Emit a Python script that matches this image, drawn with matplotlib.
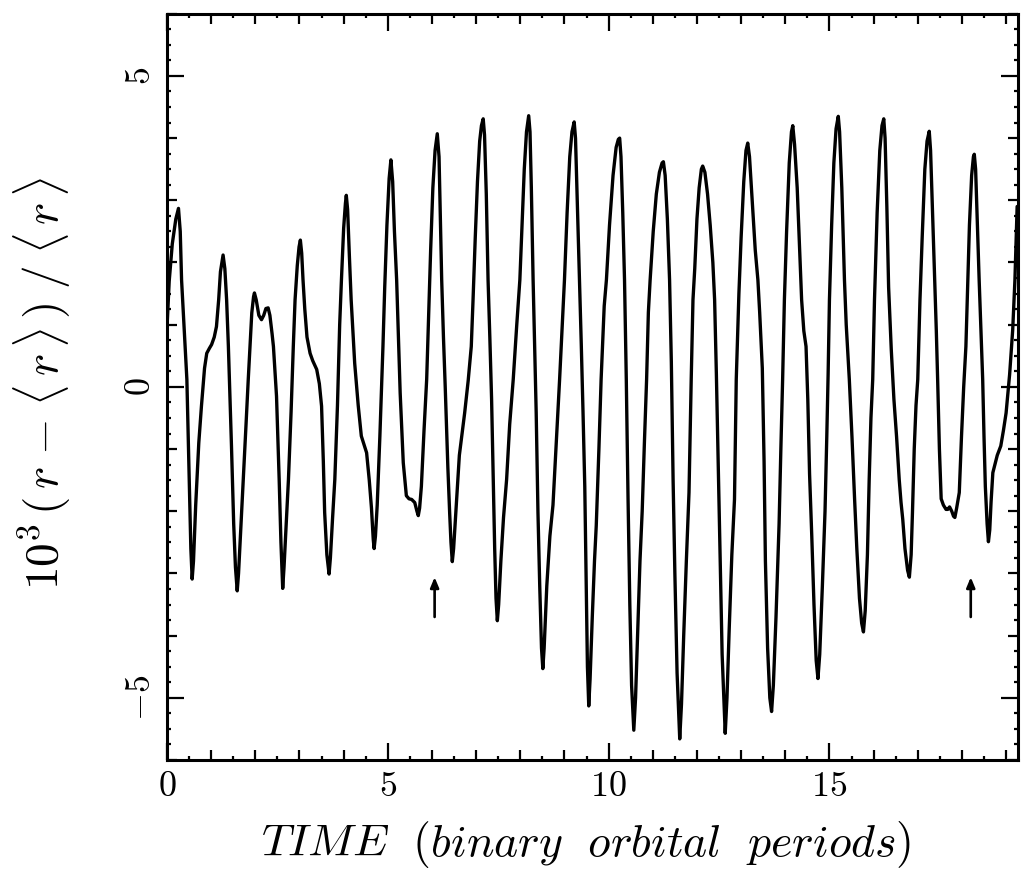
import matplotlib
matplotlib.use("Agg")
import matplotlib.pyplot as plt
from matplotlib.ticker import MultipleLocator

# Fractional radius deviation of the orbit, in units of 1e-3, versus time
time_periods = [
    0.00, 0.05, 0.12, 0.20, 0.26, 0.30, 0.33, 0.37, 0.45, 0.50, 0.54, 0.57, 0.60, 0.65, 0.72, 0.78,
    0.85, 0.90, 0.96, 1.01, 1.07, 1.12, 1.17, 1.21, 1.27, 1.31, 1.35, 1.39, 1.46, 1.51, 1.55, 1.59,
    1.62, 1.67, 1.73, 1.79, 1.84, 1.89, 1.92, 1.96, 1.98, 2.02, 2.08, 2.14, 2.19, 2.24, 2.29, 2.33,
    2.38, 2.41, 2.48, 2.54, 2.58, 2.62, 2.65, 2.70, 2.75, 2.81, 2.86, 2.90, 2.95, 2.99, 3.02, 3.05,
    3.08, 3.12, 3.17, 3.24, 3.30, 3.39, 3.45, 3.50, 3.54, 3.57, 3.62, 3.67, 3.70, 3.75, 3.80, 3.86,
    3.91, 3.95, 4.00, 4.04, 4.06, 4.09, 4.13, 4.17, 4.25, 4.33, 4.40, 4.47, 4.52, 4.58, 4.63, 4.67,
    4.69, 4.72, 4.76, 4.82, 4.89, 4.93, 4.98, 5.03, 5.07, 5.11, 5.15, 5.20, 5.24, 5.28, 5.35, 5.42,
    5.48, 5.54, 5.61, 5.66, 5.69, 5.72, 5.76, 5.82, 5.88, 5.93, 5.97, 6.02, 6.07, 6.12, 6.16, 6.19,
    6.22, 6.26, 6.30, 6.36, 6.40, 6.43, 6.46, 6.49, 6.55, 6.62, 6.74, 6.82, 6.89, 6.93, 6.98, 7.03,
    7.08, 7.12, 7.16, 7.19, 7.23, 7.27, 7.31, 7.35, 7.39, 7.42, 7.45, 7.48, 7.51, 7.56, 7.62, 7.69,
    7.76, 7.84, 7.92, 7.99, 8.04, 8.09, 8.14, 8.19, 8.22, 8.25, 8.29, 8.33, 8.36, 8.40, 8.44, 8.48,
    8.51, 8.54, 8.60, 8.67, 8.74, 8.80, 8.89, 8.95, 9.00, 9.06, 9.12, 9.17, 9.22, 9.25, 9.29, 9.34,
    9.38, 9.42, 9.46, 9.49, 9.52, 9.55, 9.58, 9.63, 9.68, 9.72, 9.78, 9.83, 9.90, 9.95, 10.02, 10.10,
    10.17, 10.22, 10.25, 10.28, 10.32, 10.36, 10.40, 10.44, 10.48, 10.52, 10.57, 10.61, 10.66, 10.71,
    10.76, 10.81, 10.86, 10.90, 10.94, 11.01, 11.08, 11.15, 11.21, 11.24, 11.28, 11.33, 11.38, 11.42,
    11.46, 11.50, 11.55, 11.61, 11.65, 11.70, 11.76, 11.82, 11.87, 11.91, 11.95, 12.00, 12.05, 12.10,
    12.13, 12.18, 12.24, 12.30, 12.36, 12.40, 12.44, 12.48, 12.52, 12.57, 12.64, 12.68, 12.73, 12.79,
    12.85, 12.89, 12.95, 13.00, 13.06, 13.11, 13.15, 13.19, 13.25, 13.32, 13.38, 13.42, 13.48, 13.52,
    13.55, 13.60, 13.65, 13.69, 13.73, 13.79, 13.86, 13.90, 13.94, 13.98, 14.03, 14.09, 14.14, 14.17,
    14.21, 14.27, 14.32, 14.37, 14.42, 14.47, 14.51, 14.55, 14.60, 14.65, 14.70, 14.74, 14.78, 14.84,
    14.90, 14.94, 14.97, 15.00, 15.05, 15.10, 15.15, 15.20, 15.23, 15.28, 15.34, 15.38, 15.45, 15.51,
    15.57, 15.62, 15.68, 15.73, 15.77, 15.81, 15.86, 15.90, 15.94, 15.98, 16.02, 16.08, 16.14, 16.19,
    16.23, 16.26, 16.30, 16.34, 16.40, 16.46, 16.52, 16.58, 16.62, 16.66, 16.71, 16.77, 16.81, 16.85,
    16.88, 16.92, 16.96, 17.00, 17.05, 17.10, 17.16, 17.21, 17.26, 17.29, 17.33, 17.38, 17.42, 17.45,
    17.49, 17.53, 17.58, 17.64, 17.68, 17.72, 17.77, 17.81, 17.84, 17.88, 17.94, 17.99, 18.04, 18.09,
    18.13, 18.17, 18.22, 18.26, 18.28, 18.31, 18.35, 18.39, 18.43, 18.47, 18.50, 18.53, 18.57, 18.60,
    18.63, 18.66, 18.70, 18.80, 18.88, 18.94, 19.00, 19.08, 19.15, 19.20, 19.25,
]
radius_dev = [
    0.95, 1.70, 2.30, 2.70, 2.87, 2.50, 1.72, 1.19, 0.12, -1.40, -2.60, -3.09, -2.80, -1.90, -0.90, -0.31,
    0.30, 0.54, 0.62, 0.68, 0.80, 0.97, 1.40, 1.85, 2.12, 1.90, 1.40, 0.65, -0.95, -2.20, -2.90, -3.28,
    -3.00, -2.30, -1.49, -0.60, 0.12, 0.80, 1.19, 1.45, 1.51, 1.40, 1.15, 1.08, 1.15, 1.26, 1.27, 1.15,
    0.85, 0.65, -0.15, -1.49, -2.50, -3.24, -2.90, -2.20, -1.49, -0.40, 0.65, 1.40, 1.95, 2.25, 2.36, 2.15,
    1.72, 1.25, 0.80, 0.54, 0.42, 0.28, 0.05, -0.31, -1.20, -2.02, -2.70, -3.01, -2.75, -2.10, -1.49, -0.30,
    1.00, 1.72, 2.55, 2.95, 3.08, 2.85, 2.10, 1.40, 0.38, -0.30, -0.79, -0.95, -1.06, -1.50, -1.95, -2.45,
    -2.60, -2.40, -1.90, -0.80, 0.65, 1.60, 2.60, 3.35, 3.65, 3.30, 2.50, 1.72, 0.80, -0.10, -1.22, -1.75,
    -1.80, -1.81, -1.86, -2.00, -2.07, -1.95, -1.60, -0.70, 0.12, 1.30, 2.20, 3.20, 3.80, 4.07, 3.70, 2.70,
    1.72, 0.80, 0.00, -1.30, -2.02, -2.50, -2.81, -2.60, -1.90, -1.10, -0.42, 0.10, 0.65, 1.40, 2.40, 3.30,
    3.95, 4.20, 4.31, 4.05, 3.10, 1.72, 0.80, -0.20, -1.60, -2.60, -3.40, -3.76, -3.50, -2.80, -2.10, -1.49,
    -0.60, 0.12, 1.00, 1.72, 2.60, 3.50, 4.10, 4.36, 4.10, 3.20, 1.72, 0.50, -0.42, -2.02, -3.20, -4.20,
    -4.53, -4.20, -3.20, -2.40, -1.90, -1.10, 0.12, 1.00, 1.72, 2.80, 3.70, 4.10, 4.26, 4.00, 3.00, 1.72,
    0.70, -0.40, -1.60, -3.00, -4.50, -5.13, -4.70, -3.70, -2.80, -2.23, -1.00, 0.12, 1.30, 1.72, 2.60, 3.40,
    3.85, 3.98, 4.00, 3.70, 2.80, 1.72, 0.12, -1.81, -3.50, -4.80, -5.52, -5.00, -3.90, -2.80,
    -2.00, -0.90, 0.12, 1.20, 1.72, 2.50, 3.10, 3.45, 3.60, 3.62, 3.40, 2.70, 1.72, 0.40,
    -1.50, -3.00, -4.60, -5.66, -5.10, -4.00, -2.80, -1.70, 0.12, 1.40, 1.90, 2.70, 3.20, 3.50,
    3.55, 3.45, 3.10, 2.60, 2.00, 1.40, 0.20, -1.20, -2.60, -4.30, -5.57, -5.00, -3.90, -2.70,
    -1.81, 0.12, 1.50, 2.40, 3.30, 3.80, 3.92, 3.70, 3.00, 2.20, 1.72, 1.20, 0.30, -1.20,
    -2.80, -4.20, -5.00, -5.22, -4.80, -3.70, -2.20, -1.00, 0.12, 1.40, 2.50, 3.60, 4.10, 4.20,
    3.90, 3.20, 2.30, 1.40, 0.90, 0.65, -0.20, -1.40, -2.40, -3.50, -4.40, -4.69, -4.30, -3.20,
    -2.00, -0.80, 0.20, 1.40, 2.60, 3.60, 4.15, 4.35, 4.10, 3.20, 1.72, 1.00, 0.12, -0.80,
    -1.81, -2.60, -3.40, -3.80, -3.94, -3.60, -2.70, -1.49, -0.50, 0.12, 1.40, 2.80, 3.80, 4.20,
    4.31, 4.00, 2.90, 1.60, 0.60, -0.20, -0.80, -1.49, -1.85, -2.13, -2.60, -2.95, -3.06, -2.70,
    -2.02, -1.00, -0.30, 0.12, 1.40, 2.40, 3.50, 3.95, 4.11, 3.80, 2.90, 1.72, 0.90, 0.12,
    -1.00, -1.80, -1.90, -1.97, -1.97, -1.93, -2.00, -2.08, -2.10, -1.95, -1.70, -0.80, 0.00, 0.65,
    1.60, 2.60, 3.40, 3.70, 3.74, 3.50, 2.60, 1.72, 0.90, 0.12, -0.80, -1.60, -2.20, -2.49,
    -2.30, -1.85, -1.38, -1.10, -0.95, -0.70, -0.42, 0.20, 0.92, 1.72, 2.90,
]

# Epochs marked with arrows below the curve
arrow_times = [6.06, 18.20]
arrow_tip = -3.06
arrow_tail = -3.70

x_limits = (0.0, 19.27)
y_limits = (-6.0, 6.0)

plt.rcParams["mathtext.fontset"] = "cm"
plt.rcParams["font.family"] = ["cmr10", "DejaVu Serif"]
plt.rcParams["axes.formatter.use_mathtext"] = True

fig = plt.figure(figsize=(10.22, 8.73), dpi=100)
ax = fig.add_axes([0.1634, 0.1294, 0.9961 - 0.1634, 0.9843 - 0.1294])

ax.plot(time_periods, radius_dev, color="black", lw=2.4,
        solid_joinstyle="round", solid_capstyle="round")

for t in arrow_times:
    ax.annotate(
        "", xy=(t, arrow_tip), xytext=(t, arrow_tail),
        arrowprops=dict(arrowstyle="-|>,head_length=0.6,head_width=0.25",
                        lw=1.9, color="black", shrinkA=0, shrinkB=0),
    )

ax.set_xlim(*x_limits)
ax.set_ylim(*y_limits)

for side in ax.spines.values():
    side.set_linewidth(2.2)

# Three tick levels: long (labelled), medium, short
ax.xaxis.set_major_locator(MultipleLocator(5))
ax.xaxis.set_minor_locator(MultipleLocator(1))
ax.yaxis.set_major_locator(MultipleLocator(5))
ax.yaxis.set_minor_locator(MultipleLocator(1))
ax.tick_params(which="both", direction="in", top=True, right=True, width=1.6, color="black")
ax.tick_params(which="major", length=12)
ax.tick_params(which="minor", length=7.5)
ax.tick_params(axis="x", which="major", labelsize=26, pad=8)
ax.tick_params(axis="y", which="major", labelsize=26, pad=7, labelrotation=90)
for lab in ax.get_yticklabels():
    lab.set_verticalalignment("center")

half_ticks = [v + 0.5 for v in range(0, 19)]
quarter_ticks = [q / 4 for q in range(-24, 25) if q % 4 != 0]
for loc in ("bottom", "top"):
    sec = ax.secondary_xaxis(loc)
    sec.set_xticks(half_ticks)
    sec.tick_params(direction="in", length=3, width=1.6, labelbottom=False, labeltop=False)
    for s in sec.spines.values():
        s.set_visible(False)
for loc in ("left", "right"):
    sec = ax.secondary_yaxis(loc)
    sec.set_yticks(quarter_ticks)
    sec.tick_params(direction="in", length=3, width=1.6, labelleft=False, labelright=False)
    for s in sec.spines.values():
        s.set_visible(False)

ax.set_xlabel(r"$TIME\ \ (binary\ \ orbital\ \ periods)$", fontsize=33)
ax.xaxis.label.set_verticalalignment("baseline")
ax.xaxis.set_label_coords(0.492, -0.129)

ax.set_ylabel(r"$10^3\,(\,r\;\!-\;\!\langle\,r\,\rangle\,)\;/\;\langle\,r\,\rangle$", fontsize=34)
ax.yaxis.label.set_verticalalignment("center")
ax.yaxis.label.set_horizontalalignment("center")
ax.yaxis.set_label_coords(-0.147, 0.505)

fig.savefig("out.png", dpi=100)
